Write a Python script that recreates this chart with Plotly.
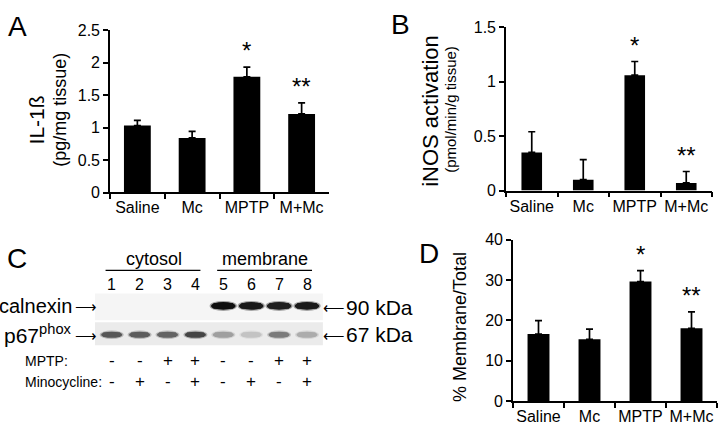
import plotly.graph_objects as go

# ---------------- data ----------------
categories = ["Saline", "Mc", "MPTP", "M+Mc"]

il1b_mean = [1.03, 0.84, 1.78, 1.21]
il1b_sem = [0.08, 0.10, 0.15, 0.17]
il1b_sig = ["", "", "*", "**"]

inos_mean = [0.35, 0.10, 1.06, 0.07]
inos_sem = [0.19, 0.185, 0.125, 0.105]
inos_sig = ["", "", "*", "**"]

membrane_mean = [16.6, 15.3, 29.6, 18.0]
membrane_sem = [3.3, 2.5, 2.7, 4.1]
membrane_sig = ["", "", "*", "**"]

lanes = [1, 2, 3, 4, 5, 6, 7, 8]
fractions = ["cytosol", "membrane"]
fraction_lanes = [[1, 2, 3, 4], [5, 6, 7, 8]]
mptp_signs = ["-", "-", "+", "+", "-", "-", "+", "+"]
minocycline_signs = ["-", "+", "-", "+", "-", "+", "-", "+"]
calnexin_intensity = [0.0, 0.0, 0.0, 0.0, 1.0, 0.96, 0.93, 0.95]
p67_intensity = [0.68, 0.66, 0.62, 0.76, 0.36, 0.2, 0.52, 0.3]

W, H = 720, 435
FONT = "Liberation Sans, Arial, sans-serif"


def px(x):
    return x / W


def py(y):
    return 1 - y / H


fig = go.Figure()

panels = [
    ("x", "y", il1b_mean, il1b_sem, il1b_sig, 0.49),
    ("x2", "y2", inos_mean, inos_sem, inos_sig, 0.40),
    ("x3", "y3", membrane_mean, membrane_sem, membrane_sig, 0.43),
]
annotations = []
for xa, ya, mean, sem, sig, bw in panels:
    fig.add_trace(go.Bar(
        x=categories, y=mean, xaxis=xa, yaxis=ya, width=bw,
        marker=dict(color="black", line=dict(width=0)),
        error_y=dict(type="data", array=sem, arrayminus=[0] * len(sem),
                     symmetric=False, color="black", thickness=1.7, width=3.5),
        showlegend=False,
    ))
    for c, m, s, t in zip(categories, mean, sem, sig):
        if t:
            annotations.append(dict(x=c, y=m + s, xref=xa, yref=ya, text=t,
                                    showarrow=False, yanchor="bottom", yshift=1,
                                    font=dict(size=24, color="black", family=FONT)))

axis_common = dict(showline=True, linecolor="black", linewidth=1.6,
                   ticks="outside", ticklen=5, tickwidth=1.6, tickcolor="black",
                   showgrid=False, zeroline=False, tickangle=0,
                   tickfont=dict(size=16, color="black", family=FONT))

layout_axes = {}
# panel A
layout_axes["xaxis"] = dict(domain=[px(110), px(329)], anchor="y", type="category",
                            tickson="boundaries", range=[-0.5, 3.5], **axis_common)
layout_axes["yaxis"] = dict(domain=[py(192), py(23)], anchor="x", range=[0, 2.5],
                            tickvals=[0, 0.5, 1, 1.5, 2, 2.5], **axis_common)
# panel B
layout_axes["xaxis2"] = dict(domain=[px(506), px(712)], anchor="y2", type="category",
                             tickson="boundaries", range=[-0.5, 3.5], **axis_common)
layout_axes["yaxis2"] = dict(domain=[py(190), py(20)], anchor="x2", range=[0, 1.5],
                             tickvals=[0, 0.5, 1, 1.5], **axis_common)
# panel D
layout_axes["xaxis3"] = dict(domain=[px(513), px(717)], anchor="y3", type="category",
                             tickson="boundaries", range=[-0.5, 3.5], **axis_common)
layout_axes["yaxis3"] = dict(domain=[py(409), py(241)], anchor="x3", range=[0, 40],
                             tickvals=[0, 10, 20, 30, 40], **axis_common)
# panel C (blot) coordinate system: lanes horizontally, rows vertically
lane0, lane_step = 83.8, 27.9
layout_axes["xaxis4"] = dict(domain=[0, 1], anchor="y4", visible=False,
                             range=[-lane0 / lane_step, (W - lane0) / lane_step])
layout_axes["yaxis4"] = dict(domain=[0, 1], anchor="x4", visible=False,
                             range=[H, 0])

# row positions (layout)
ROW_NUM, ROW_CAL, ROW_P67, ROW_MPTP, ROW_MINO, ROW_GROUP, ROW_LINE = 288, 310, 340, 367, 389, 261, 273

shapes = []
# strips background
shapes.append(dict(type="rect", xref="x4", yref="y4", x0=lanes[0] - 0.6, x1=lanes[-1] + 0.57,
                   y0=297, y1=325, fillcolor="#f5f5f5", line=dict(width=0), layer="below"))
shapes.append(dict(type="rect", xref="x4", yref="y4", x0=lanes[0] - 0.6, x1=lanes[-1] + 0.57,
                   y0=327, y1=351, fillcolor="#ebebeb", line=dict(width=0), layer="below"))


def gray(i, floor=15):
    v = int(round(240 - (240 - floor) * i))
    return f"rgb({v},{v},{v})"


def band(lane, row, inten, hw, hh):
    if inten <= 0:
        return
    # soft halo
    shapes.append(dict(type="circle", xref="x4", yref="y4", x0=lane - hw - 0.05, x1=lane + hw + 0.05,
                       y0=row - hh - 1.2, y1=row + hh + 1.2, fillcolor=gray(inten * 0.6),
                       line=dict(width=0), opacity=0.6))
    shapes.append(dict(type="circle", xref="x4", yref="y4", x0=lane - hw, x1=lane + hw,
                       y0=row - hh, y1=row + hh, fillcolor=gray(inten), line=dict(width=0)))
    shapes.append(dict(type="rect", xref="x4", yref="y4", x0=lane - hw * 0.8, x1=lane + hw * 0.8,
                       y0=row - hh * 0.75, y1=row + hh * 0.75, fillcolor=gray(inten), line=dict(width=0)))


for ln, ci, pi in zip(lanes, calnexin_intensity, p67_intensity):
    band(ln, ROW_CAL, ci, 0.44, 4.0)
    band(ln, ROW_P67, pi, 0.38, 3.2)

# group labels and underline
for name, grp in zip(fractions, fraction_lanes):
    annotations.append(dict(x=sum(grp) / len(grp), y=ROW_GROUP, xref="x4", yref="y4", text=name,
                            showarrow=False, font=dict(size=18, color="black", family=FONT)))
    shapes.append(dict(type="line", xref="x4", yref="y4", x0=grp[0] - 0.22, x1=grp[-1] + 0.18,
                       y0=ROW_LINE, y1=ROW_LINE, line=dict(color="black", width=1.2)))

for ln, m, n in zip(lanes, mptp_signs, minocycline_signs):
    annotations.append(dict(x=ln, y=ROW_NUM, xref="x4", yref="y4", text=str(ln), showarrow=False,
                            font=dict(size=16, color="black", family=FONT)))
    annotations.append(dict(x=ln, y=ROW_MPTP, xref="x4", yref="y4", text=m, showarrow=False,
                            font=dict(size=17, color="black", family=FONT)))
    annotations.append(dict(x=ln, y=ROW_MINO, xref="x4", yref="y4", text=n, showarrow=False,
                            font=dict(size=17, color="black", family=FONT)))


def ann(x, y, text, size, xanchor="center", angle=0, yanchor="middle"):
    annotations.append(dict(x=px(x), y=py(y), xref="paper", yref="paper", text=text,
                            showarrow=False, xanchor=xanchor, yanchor=yanchor, textangle=angle,
                            font=dict(size=size, color="black", family=FONT)))


ann(74, ROW_CAL, "calnexin", 20, xanchor="right")
ann(86, ROW_CAL + 1, "⟶", 15)
ann(74, ROW_P67 - 1, "p67<sup>phox</sup>", 21, xanchor="right")
ann(86, ROW_P67 + 1, "⟶", 15)
ann(334, ROW_CAL + 2, "⟵", 15)
ann(344, ROW_CAL + 2, "90 kDa", 21, xanchor="left")
ann(334, ROW_P67 + 1, "⟵", 15)
ann(344, ROW_P67, "67 kDa", 21, xanchor="left")
ann(23, ROW_MPTP, "MPTP:", 14, xanchor="left")
ann(23, ROW_MINO, "Minocycline:", 14, xanchor="left")

# panel letters
ann(17, 19, "A", 28)
ann(400, 17, "B", 28)
ann(17, 261, "C", 28)
ann(429, 255, "D", 28)

# y-axis titles
ann(36, 117, "IL-1ß", 21, angle=-90)
ann(60, 106, "(pg/mg tissue)", 18, angle=-90)
ann(431, 107, "iNOS activation", 22, angle=-90)
ann(451, 106, "(pmol/min/g tissue)", 15, angle=-90)
ann(460, 332, "% Membrane/Total", 18, angle=-90)

fig.update_layout(
    width=W, height=H, margin=dict(l=0, r=0, t=0, b=0),
    paper_bgcolor="white", plot_bgcolor="rgba(0,0,0,0)",
    font=dict(family=FONT, color="black"),
    shapes=shapes, annotations=annotations, showlegend=False,
    **layout_axes,
)

fig.write_html("out.html", config={"displayModeBar": False},
               post_script="document.body.style.margin='0';document.body.style.overflow='hidden';")
